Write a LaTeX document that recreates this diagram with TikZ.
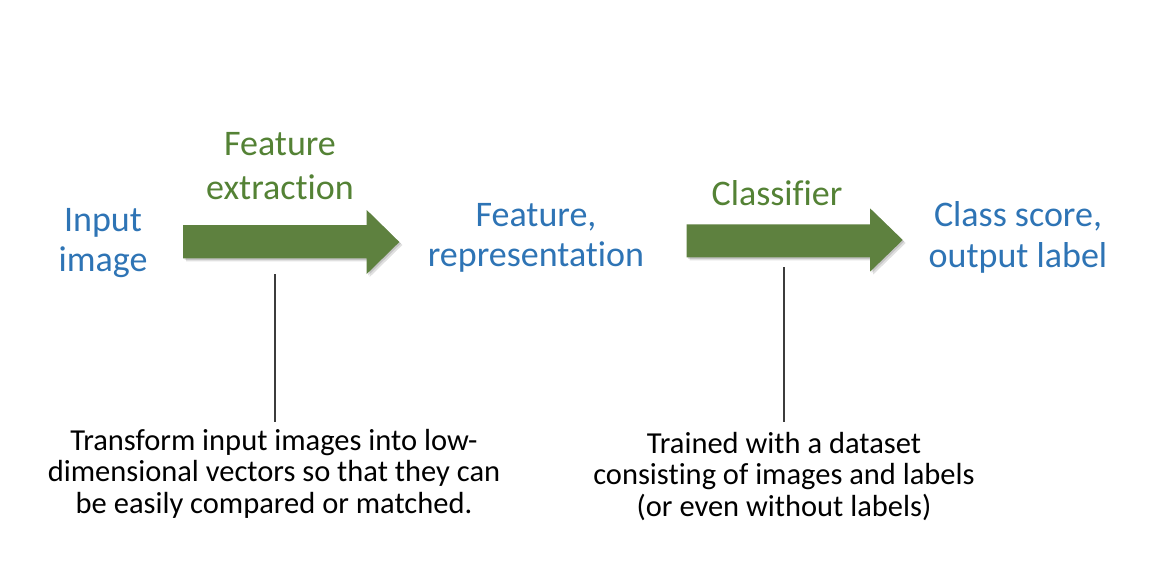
\documentclass[tikz,border=0pt]{standalone}
\usepackage{fontspec}
\setmainfont{Carlito}[Ligatures=NoCommon]
\definecolor{lblblue}{RGB}{46,116,181}
\definecolor{lblgreen}{RGB}{84,130,53}
\definecolor{arrgreen}{RGB}{94,129,63}
\definecolor{linegray}{RGB}{60,60,60}
\begin{document}
\begin{tikzpicture}[x=1pt,y=-1pt,
  biglbl/.style={font=\fontsize{36}{39.5}\selectfont, align=center, inner sep=0pt, anchor=base},
  bluelbl/.style={biglbl, text=lblblue},
  greenlbl/.style={biglbl, text=lblgreen},
  desc/.style={font=\fontsize{30.5}{31.6}\selectfont, align=center, inner sep=0pt, anchor=base, text=black},
  blockarrow/.style={fill=arrgreen},
  arrshadow/.style={fill=black, opacity=0.12},
  leader/.style={draw=linegray, line width=1.6pt}
]
\useasboundingbox (0,0) rectangle (1162,582);
\fill[white] (0,0) rectangle (1162,582);

% arrow 1
\foreach \d in {1.5,3}{
  \fill[arrshadow] ([shift={(\d,\d)}]183,225) -- ++(183.7,0) -- ++(0,-15) -- (399.3+\d,242+\d) -- (366.7+\d,274+\d) -- ++(0,-15.7) -- (183+\d,258.3+\d) -- cycle;
}
\fill[blockarrow] (183,225) -- (366.7,225) -- (366.7,210) -- (399.3,242) -- (366.7,274) -- (366.7,258.3) -- (183,258.3) -- cycle;

% arrow 2
\foreach \d in {1.5,3}{
  \fill[arrshadow] ([shift={(\d,\d)}]686.7,224.3) -- ++(183.3,0) -- ++(0,-16) -- (902.7+\d,240+\d) -- (870+\d,271.7+\d) -- ++(0,-14.4) -- (686.7+\d,257.3+\d) -- cycle;
}
\fill[blockarrow] (686.7,224.3) -- (870,224.3) -- (870,208.3) -- (902.7,240) -- (870,271.7) -- (870,257.3) -- (686.7,257.3) -- cycle;

% labels (anchor=base is the baseline of the last line)
\node[bluelbl, font=\fontsize{36}{40}\selectfont] (input) at (103,271.7) {Input\\image};
\node[greenlbl, font=\fontsize{36}{44}\selectfont] (fext) at (280,199) {Feature\\extraction};
\node[bluelbl] (feat) at (536,266.2) {Feature,\\representation};
\node[greenlbl] (clf) at (777,205) {Classifier};
\node[bluelbl, font=\fontsize{36}{41}\selectfont] (score) at (1018,267.7) {Class score,\\output label};

% descriptions
\node[desc] (d1) at (274,513.2) {Transform input images into low-\\dimensional vectors so that they can\\be easily compared or matched.};
\node[desc] (d2) at (784,516.2) {Trained with a dataset\\consisting of images and labels\\(or even without labels)};

% leader lines
\coordinate (l1a) at (275,274);
\coordinate (l1b) at (275,422);
\coordinate (l2a) at (783.7,267.3);
\coordinate (l2b) at (783.7,422);
\draw[leader] (l1a) -- (l1b);
\draw[leader] (l2a) -- (l2b);
\end{tikzpicture}
\end{document}
